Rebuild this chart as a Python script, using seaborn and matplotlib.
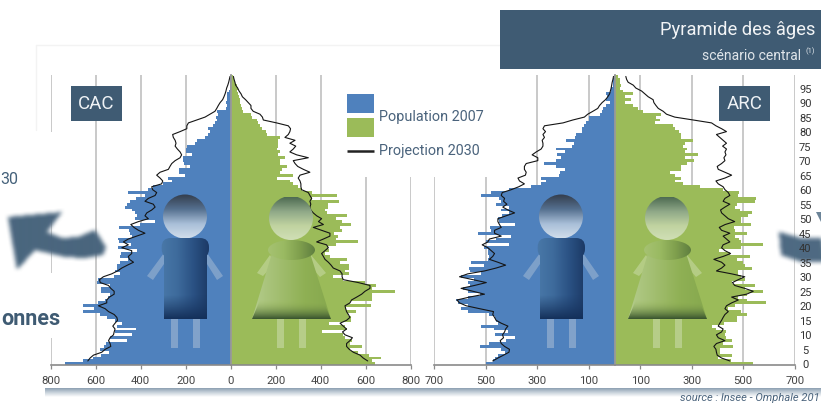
import numpy as np
import matplotlib
matplotlib.use('Agg')
import matplotlib.pyplot as plt
import seaborn as sns
from matplotlib.colors import LinearSegmentedColormap, to_rgb
from matplotlib.path import Path
from matplotlib.patches import Circle, Ellipse, FancyBboxPatch, Polygon, Rectangle

# %% data (age 0 to 99)
ages = np.arange(100)

cac_men_2007 = [735, 655, 610, 575, 540, 580, 565, 555, 460, 535,
                440, 515, 420, 505, 485, 515, 550, 583, 655, 607,
                655, 590, 558, 545, 535, 575, 578, 535, 595, 592,
                518, 490, 515, 505, 505, 490, 455, 490, 488, 418,
                503, 445, 495, 500, 440, 447, 450, 495, 403, 336,
                425, 418, 425, 440, 470, 462, 447, 420, 380, 455,
                366, 344, 300, 262, 277, 203, 228, 228, 180, 207,
                210, 213, 173, 198, 198, 195, 158, 150, 114, 99,
                92, 99, 77, 70, 59, 65, 55, 59, 21, 18,
                21, 18, 15, 18, 8, 5, 4, 3, 2, 1]
cac_women_2007 = [641, 629, 668, 615, 567, 530, 582, 530, 541, 508,
                  497, 404, 515, 508, 437, 535, 535, 520, 555, 511,
                  622, 530, 626, 629, 629, 730, 626, 644, 597, 500,
                  456, 526, 508, 526, 526, 486, 515, 441, 419, 437,
                  434, 466, 564, 466, 475, 460, 493, 486, 535, 493,
                  466, 515, 426, 419, 434, 431, 481, 360, 471, 360,
                  315, 300, 278, 263, 204, 278, 219, 227, 249, 219,
                  219, 241, 212, 219, 204, 208, 212, 208, 219, 160,
                  155, 138, 130, 120, 115, 93, 90, 56, 49, 46,
                  41, 41, 37, 31, 27, 34, 28, 20, 15, 10]
# projections start at age 1
cac_men_2030 = [635, 625, 610, 573, 558, 533, 536, 543, 536,
                521, 518, 514, 524, 514, 503, 506, 518, 543, 558,
                588, 551, 551, 539, 518, 518, 533, 543, 580, 583,
                566, 529, 503, 484, 459, 432, 450, 455, 440, 440,
                484, 455, 477, 455, 418, 381, 410, 430, 444, 410,
                366, 381, 373, 351, 336, 344, 381, 366, 336, 329,
                347, 351, 307, 302, 314, 329, 314, 277, 270, 262,
                247, 225, 218, 225, 237, 247, 243, 247, 255, 258,
                225, 195, 195, 188, 151, 114, 92, 70, 62, 55,
                47, 36, 30, 25, 21, 18, 13, 9, 6, 3]
cac_women_2030 = [609, 589, 575, 545, 527, 515, 515, 530, 541,
                  508, 497, 515, 500, 486, 515, 530, 523, 515, 511,
                  508, 530, 537, 560, 582, 597, 619, 619, 567, 500,
                  495, 495, 486, 456, 446, 434, 419, 412, 404, 419,
                  434, 426, 382, 412, 441, 441, 404, 367, 412, 390,
                  404, 382, 367, 356, 352, 356, 352, 360, 352, 345,
                  315, 312, 312, 308, 300, 308, 352, 323, 298, 286,
                  278, 345, 293, 263, 278, 289, 263, 286, 241, 256,
                  263, 266, 256, 204, 145, 141, 130, 100, 90, 90,
                  78, 66, 52, 46, 37, 31, 22, 19, 15, 12]

arc_men_2007 = [501, 473, 466, 453, 427, 440, 524, 488, 421, 388,
                466, 414, 470, 518, 453, 460, 466, 486, 570, 598,
                570, 609, 615, 570, 524, 570, 589, 563, 570, 544,
                596, 518, 563, 566, 505, 557, 492, 486, 492, 492,
                505, 408, 499, 460, 401, 531, 479, 483, 385, 447,
                453, 436, 408, 440, 410, 462, 440, 447, 518, 479,
                408, 324, 285, 265, 285, 214, 211, 194, 227, 272,
                227, 207, 224, 194, 227, 164, 159, 188, 152, 149,
                126, 126, 120, 110, 100, 100, 58, 48, 43, 32,
                19, 32, 28, 32, 13, 13, 6, 4, 4, 3]
arc_women_2007 = [539, 451, 403, 458, 409, 409, 461, 422, 455, 435,
                  429, 435, 396, 377, 425, 474, 477, 513, 493, 442,
                  467, 588, 515, 480, 515, 575, 506, 545, 458, 506,
                  493, 480, 480, 536, 506, 500, 474, 528, 448, 407,
                  493, 575, 490, 484, 467, 513, 467, 464, 532, 493,
                  493, 519, 536, 487, 467, 474, 545, 549, 480, 484,
                  422, 331, 267, 234, 260, 234, 215, 260, 260, 280,
                  308, 273, 325, 273, 280, 267, 273, 303, 260, 260,
                  251, 234, 228, 157, 176, 163, 179, 111, 92, 73,
                  40, 66, 40, 70, 34, 21, 27, 21, 21, 14]
arc_men_2030 = [473, 453, 431, 410, 408, 427, 440, 444, 431,
                435, 427, 423, 414, 440, 460, 466, 473, 470, 524,
                576, 602, 612, 563, 505, 550, 596, 544, 498, 550,
                602, 570, 505, 460, 423, 453, 486, 473, 466, 479,
                492, 514, 492, 486, 440, 466, 466, 440, 447, 453,
                453, 421, 388, 414, 434, 418, 431, 427, 440, 436,
                401, 372, 350, 369, 375, 346, 343, 350, 350, 343,
                298, 298, 320, 304, 285, 278, 278, 281, 272, 278,
                268, 278, 272, 200, 162, 117, 104, 84, 65, 58,
                48, 35, 26, 19, 16, 13, 11, 9, 6, 4]
arc_women_2030 = [448, 416, 399, 396, 394, 386, 396, 429, 403,
                  396, 416, 422, 403, 409, 416, 422, 429, 442, 429,
                  435, 455, 481, 455, 513, 539, 506, 467, 458, 481,
                  506, 455, 396, 416, 429, 416, 386, 422, 451, 429,
                  416, 422, 448, 435, 422, 448, 416, 407, 430, 467,
                  442, 429, 416, 412, 429, 448, 422, 429, 448, 442,
                  429, 422, 403, 394, 429, 455, 429, 403, 399, 416,
                  429, 425, 433, 429, 435, 420, 435, 422, 409, 396,
                  435, 416, 394, 377, 306, 234, 202, 189, 170, 161,
                  153, 150, 131, 118, 105, 83, 73, 53, 47, 44]

cac_ticks = [-800, -600, -400, -200, 0, 200, 400, 600, 800]
arc_ticks = [-700, -500, -300, -100, 100, 300, 500, 700]
age_labels = list(range(0, 100, 5))

# %% style
sns.set_style('white')
plt.rcParams['font.family'] = ['Roboto', 'DejaVu Sans']
BLUE = '#4f81bd'
GREEN = '#9bbb59'
SLATE = '#3f5b73'
W, H = 821, 405

fig = plt.figure(figsize=(W / 100, H / 100), dpi=100)


def panel(left, right, limit, ticks, men, women, men_2030, women_2030):
    top, bottom = 75, 365.3
    ax = fig.add_axes([left / W, 1 - bottom / H, (right - left) / W, (bottom - top) / H])
    ax.set_axisbelow(True)
    ax.grid(axis='x', color='#c9c9c9', lw=1.4)
    sns.barplot(x=-np.array(men), y=ages, orient='y', native_scale=True, width=1,
                color=BLUE, saturation=1, linewidth=0, errorbar=None, ax=ax)
    sns.barplot(x=np.array(women), y=ages, orient='y', native_scale=True, width=1,
                color=GREEN, saturation=1, linewidth=0, errorbar=None, ax=ax)
    sns.lineplot(x=-np.array(men_2030), y=ages[1:], orient='y', sort=False, estimator=None,
                 color='#151515', lw=0.8, ax=ax)
    sns.lineplot(x=np.array(women_2030), y=ages[1:], orient='y', sort=False, estimator=None,
                 color='#151515', lw=0.8, ax=ax)
    ax.set_xlim(-limit, limit)
    ax.set_ylim(-0.5, 99.5)
    ax.set_xticks(ticks)
    ax.set_xticklabels([str(abs(t)) for t in ticks])
    ax.set_yticks([a - 0.5 for a in age_labels[1:]])
    ax.set_yticklabels([])
    ax.set_xlabel('')
    ax.set_ylabel('')
    ax.patch.set_alpha(0)
    for side in ['top', 'right']:
        ax.spines[side].set_visible(False)
    ax.spines['left'].set_position(('data', 0))
    ax.spines['left'].set_color('#999999')
    ax.spines['left'].set_linewidth(1.3)
    ax.spines['bottom'].set_color('#8a8a8a')
    ax.spines['bottom'].set_linewidth(1.2)
    ax.tick_params(axis='x', length=3, width=0.9, color='#8a8a8a', labelsize=8.2,
                   labelcolor='#444444', pad=5, bottom=True)
    ax.tick_params(axis='y', length=3, width=0.7, color='#8a8a8a', direction='in', left=True)
    return ax


ax_cac = panel(50.7, 410.7, 800, cac_ticks, cac_men_2007, cac_women_2007, cac_men_2030, cac_women_2030)
ax_arc = panel(434.3, 794.7, 700, arc_ticks, arc_men_2007, arc_women_2007, arc_men_2030, arc_women_2030)

# %% overlay in pixel coordinates for the pictures, boxes and texts
over = fig.add_axes([0, 0, 1, 1], zorder=5)
over.set_xlim(0, W)
over.set_ylim(H, 0)
over.axis('off')
over.patch.set_alpha(0)

for a in age_labels:
    over.text(741, a - 0.5, str(a), ha='center', va='center', fontsize=8, color='#333333',
              zorder=6, transform=ax_arc.transData)


def gradient(x0, x1, y0, y1, colors, clip=None, horizontal=False, z=3):
    cmap = LinearSegmentedColormap.from_list('g', colors)
    grad = np.linspace(0, 1, 128).reshape(-1, 1)
    if horizontal:
        grad = grad.T
    im = over.imshow(grad, cmap=cmap, extent=[x0, x1, y1, y0], aspect='auto', zorder=z)
    if clip is not None:
        clip.set_transform(over.transData)
        im.set_clip_path(clip)
    return im


def blurred(points, color, size, z=2, strength=1.0):
    # soft shape: polygon mask smoothed with a box filter
    xs = np.arange(-20, W + 20)
    ys = np.arange(-20, H + 20)
    gx, gy = np.meshgrid(xs + 0.5, ys + 0.5)
    mask = Path(points).contains_points(np.c_[gx.ravel(), gy.ravel()]).reshape(gx.shape).astype(float)
    kernel = np.ones(size) / size
    for _ in range(2):
        mask = np.apply_along_axis(lambda r: np.convolve(r, kernel, mode='same'), 0, mask)
        mask = np.apply_along_axis(lambda r: np.convolve(r, kernel, mode='same'), 1, mask)
    rgba = np.zeros(mask.shape + (4,))
    rgba[..., :3] = to_rgb(color)
    rgba[..., 3] = mask * strength
    over.imshow(rgba, extent=[-20, W + 20, H + 20, -20], aspect='auto', zorder=z)


def person_limbs(boxes, arms, color):
    for box in boxes:
        over.add_patch(Rectangle((box, 319), 7, 29, fc=color, ec='none', alpha=0.65, zorder=3))
    for arm in arms:
        over.add_patch(Polygon(arm, fc=color, ec='none', alpha=0.6, zorder=3))


def man(dx):
    person_limbs([171 + dx, 193 + dx],
                 [[(164 + dx, 253), (147 + dx, 276), (153 + dx, 280), (164 + dx, 264)],
                  [(207 + dx, 253), (223 + dx, 276), (217 + dx, 280), (207 + dx, 264)]], '#9db5d2')
    gradient(163 + dx, 207 + dx, 194, 239, ['#333c4b', '#55708f', '#a9bfd8', '#d3dfec'],
             clip=Circle((185 + dx, 216.5), 22))
    body = Rectangle((164 + dx, 248), 42.7, 71, fc='none', ec='none')
    over.add_patch(body)
    gradient(161 + dx, 209 + dx, 238, 319, ['#4978a8', '#3e6b9c', '#2b5284', '#1c3a66'],
             clip=body, horizontal=True)
    gradient(164 + dx, 207 + dx, 295, 319, ['#1c3a6600', '#14305a'],
             clip=Rectangle((164 + dx, 295), 43, 24), z=4)
    top = FancyBboxPatch((161.7 + dx, 238), 47.3, 20, boxstyle='round,pad=0,rounding_size=9',
                         fc='none', ec='none')
    over.add_patch(top)
    gradient(161 + dx, 209 + dx, 237, 258, ['#4978a8', '#3e6b9c', '#2b5284', '#1c3a66'],
             clip=top, horizontal=True, z=4)


def woman(dx):
    person_limbs([277 + dx, 299 + dx],
                 [[(270 + dx, 255), (257 + dx, 273), (263 + dx, 276), (275 + dx, 263)],
                  [(311 + dx, 255), (326 + dx, 273), (320 + dx, 277), (308 + dx, 263)]], '#c6d8a2')
    gradient(269 + dx, 313 + dx, 197, 240, ['#4e6b52', '#8fa888', '#c0d3a0', '#d0dfb6'],
             clip=Circle((291 + dx, 218), 22))
    dress = Polygon([(273 + dx, 250), (309 + dx, 250), (331 + dx, 319), (252 + dx, 319)], fc='none', ec='none')
    over.add_patch(dress)
    gradient(252 + dx, 331 + dx, 245, 319, ['#b4cc8c', '#a2be70', '#8fb054', '#86a84e'],
             clip=dress, horizontal=True)
    gradient(252 + dx, 331 + dx, 300, 319, ['#9bbb5900', '#37522e'],
             clip=Polygon([(260 + dx, 300), (323 + dx, 300), (331 + dx, 319), (252 + dx, 319)]), z=4)
    top = Ellipse((291.5 + dx, 250), 47, 20, fc='none', ec='none')
    over.add_patch(top)
    gradient(268 + dx, 315 + dx, 240, 260, ['#a6c272', '#9aba62', '#80a04e', '#607f40'],
             clip=top, horizontal=True, z=4)


# white boxes that hide grid lines in the reference
for x0, y0, x1, y1 in [(330, 70, 500, 176.5), (45, 132, 57, 220), (45, 273, 57, 338)]:
    over.add_patch(Rectangle((x0, y0), x1 - x0, y1 - y0, fc='white', ec='none', zorder=1))

man(0)
woman(0)
man(376)
woman(376)

# blurred arrows
arrow_left = [(8, 217), (62, 212), (47, 232), (62, 238), (78, 237), (95, 230), (106, 247), (103, 255),
              (85, 258), (65, 257), (35, 250), (17, 270)]
arrow_right = [(778, 232), (800, 238), (821, 238), (825, 262), (800, 262), (780, 255)]
blurred(arrow_left, '#4a667e', 5)
blurred(arrow_right, '#4e6a82', 5)
over.add_patch(Polygon([(816, 212), (821, 212), (821, 222)], fc='#6c8498', ec='none', zorder=2))

# panel names
for x0, label in [(71, 'CAC'), (719, 'ARC')]:
    over.add_patch(Rectangle((x0, 86), 51, 35, fc=SLATE, ec='none', zorder=5))
    over.text(x0 + 25.5, 104, label, color='#eef2f5', fontsize=13.5, ha='center', va='center', zorder=6)

# legend
over.add_patch(Rectangle((347, 94), 27, 18.7, fc=BLUE, ec='none', zorder=5))
over.add_patch(Rectangle((347, 118), 27, 18.7, fc=GREEN, ec='none', zorder=5))
over.plot([347, 374], [150.7, 150.7], color='#222222', lw=1.8, zorder=5, solid_capstyle='butt')
over.text(379, 117, 'Population 2007', color='#4a637c', fontsize=10.4, va='center', zorder=6)
over.text(379, 151, 'Projection 2030', color='#4a637c', fontsize=10.4, va='center', zorder=6)

# title block
over.add_patch(Rectangle((500, 10), 321, 59, fc=SLATE, ec='none', zorder=5))
over.text(815, 30, 'Pyramide des âges', color='#f2f4f6', fontsize=13.2, ha='right', va='center', zorder=6)
over.text(801, 56, 'scénario central', color='#dfe5ea', fontsize=10, ha='right', va='center', zorder=6)
over.text(815, 51, '(1)', color='#dfe5ea', fontsize=5.5, ha='right', va='center', zorder=6)

# left side texts and faint frame
over.text(0.5, 180, '30', color='#44617a', fontsize=11.5, ha='left', va='center', zorder=6)
over.text(61, 319, 'onnes', color='#3f5b73', fontsize=15.5, fontweight='bold', ha='right', va='center', zorder=6)
over.plot([36, 500], [45, 45], color='#f3f3f3', lw=1, zorder=0)
over.plot([36, 36], [45, 130], color='#f3f3f3', lw=1, zorder=0)

# bottom shadow band and source
gradient(45, 821, 388, 397, ['#8c9fb1', '#c9d3dc', '#ffffff'], z=1)
over.text(820, 398, 'source : Insee - Omphale 201', color='#4a637c', fontsize=8, style='italic',
          ha='right', va='center', zorder=6)
over.set_xlim(0, W)
over.set_ylim(H, 0)

fig.savefig('out.png', dpi=100)
